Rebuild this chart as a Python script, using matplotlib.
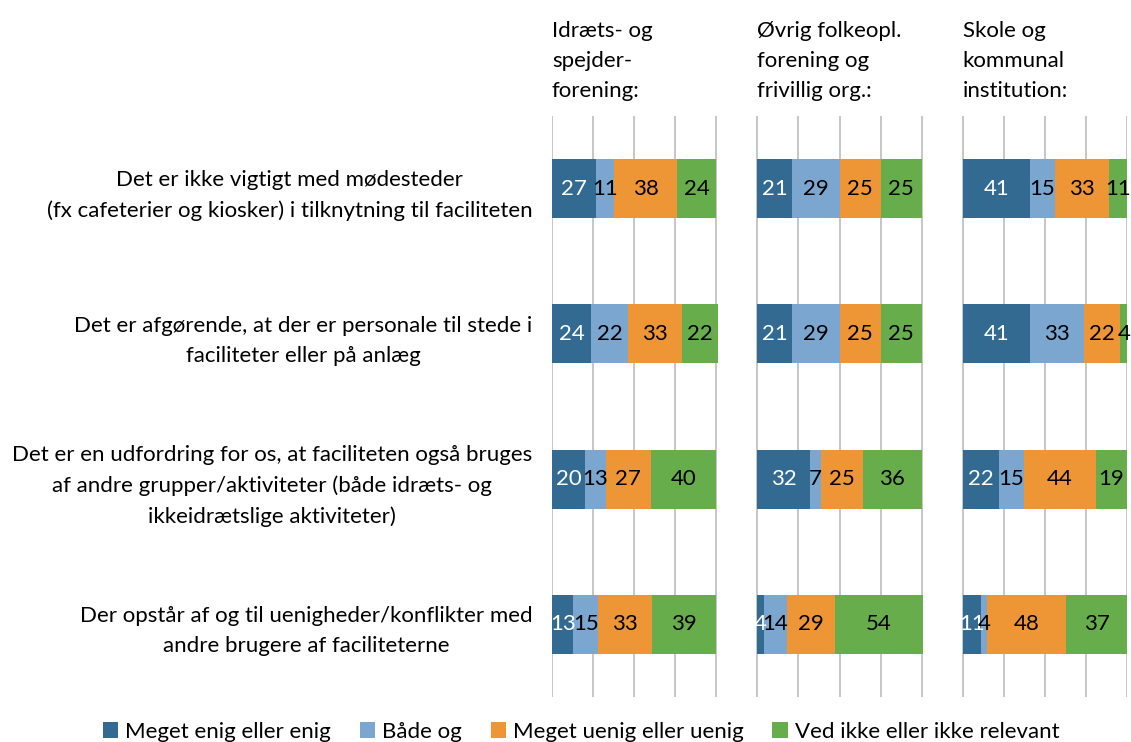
import numpy as np
import matplotlib
matplotlib.use('Agg')
from matplotlib import pyplot as plt
from matplotlib.patches import Patch
from matplotlib.transforms import blended_transform_factory

plt.rcParams['font.family'] = ['Lato', 'DejaVu Sans']

statements = [
    "Det er ikke vigtigt med mødesteder\n(fx cafeterier og kiosker) i tilknytning til faciliteten",
    "Det er afgørende, at der er personale til stede i\nfaciliteter eller på anlæg",
    "Det er en udfordring for os, at faciliteten også bruges\naf andre grupper/aktiviteter (både idræts- og\nikkeidrætslige aktiviteter)",
    "Der opstår af og til uenigheder/konflikter med\nandre brugere af faciliteterne",
]
groups = [
    "Idræts- og\nspejder-\nforening:",
    "Øvrig folkeopl.\nforening og\nfrivillig org.:",
    "Skole og\nkommunal\ninstitution:",
]
series = ["Meget enig eller enig", "Både og", "Meget uenig eller uenig",
          "Ved ikke eller ikke relevant"]

# one list per answer, one row per group, values per statement (%)
enig = [[27, 24, 20, 13], [21, 21, 32, 4], [41, 41, 22, 11]]
baade = [[11, 22, 13, 15], [29, 29, 7, 14], [15, 33, 15, 4]]
uenig = [[38, 33, 27, 33], [25, 25, 25, 29], [33, 22, 44, 48]]
vedikke = [[24, 22, 40, 39], [25, 25, 36, 54], [11, 4, 19, 37]]

colors = ['#336a91', '#7aa6cf', '#ee9535', '#68ad4c']
text_colors = ['white', 'black', 'black', 'black']

W, H = 1131, 742
fig = plt.figure(figsize=(W / 100, H / 100), dpi=100)
ax = fig.add_axes([552 / W, 1 - 697 / H, (1127 - 552) / W, (697 - 116) / H])

y = np.arange(len(statements))
panel_gap = 25
fs = 16
ls = 1.62

for x in range(0, 351, 25):
    ax.axvline(x, color='#c6c6ca', lw=1.4, zorder=0)

for g in range(len(groups)):
    offset = g * (100 + panel_gap)
    left = np.full(len(statements), float(offset))
    for s, data in enumerate([enig, baade, uenig, vedikke]):
        vals = np.array(data[g], dtype=float)
        bars = ax.barh(y, vals, left=left, height=0.406, color=colors[s],
                       edgecolor='none', zorder=2)
        ax.bar_label(bars, labels=[str(int(v)) for v in vals], label_type='center',
                     color=text_colors[s], fontsize=fs)
        left += vals

trans = blended_transform_factory(ax.transData, fig.transFigure)
for g, name in enumerate(groups):
    ax.text(g * (100 + panel_gap), 1 - 21 / H, name, transform=trans,
            ha='left', va='top', fontsize=fs, linespacing=ls)

ax.set_xlim(0, 350)
ax.set_ylim(len(statements) - 0.5, -0.5)
ax.set_xticks([])
ax.set_yticks(y)
ax.set_yticklabels(statements, fontsize=fs, multialignment='center', linespacing=ls)
ax.tick_params(axis='y', length=0, pad=14)
for sp in ax.spines.values():
    sp.set_visible(False)

handles = [Patch(facecolor=c, edgecolor='none') for c in colors]
fig.legend(handles, series, loc='center', bbox_to_anchor=(581 / W, 1 - 732 / H),
           ncol=4, frameon=False, fontsize=fs, handlelength=0.7, handleheight=0.7,
           handletextpad=0.3, columnspacing=1.3, borderaxespad=0)

fig.savefig('out.png', dpi=100)
